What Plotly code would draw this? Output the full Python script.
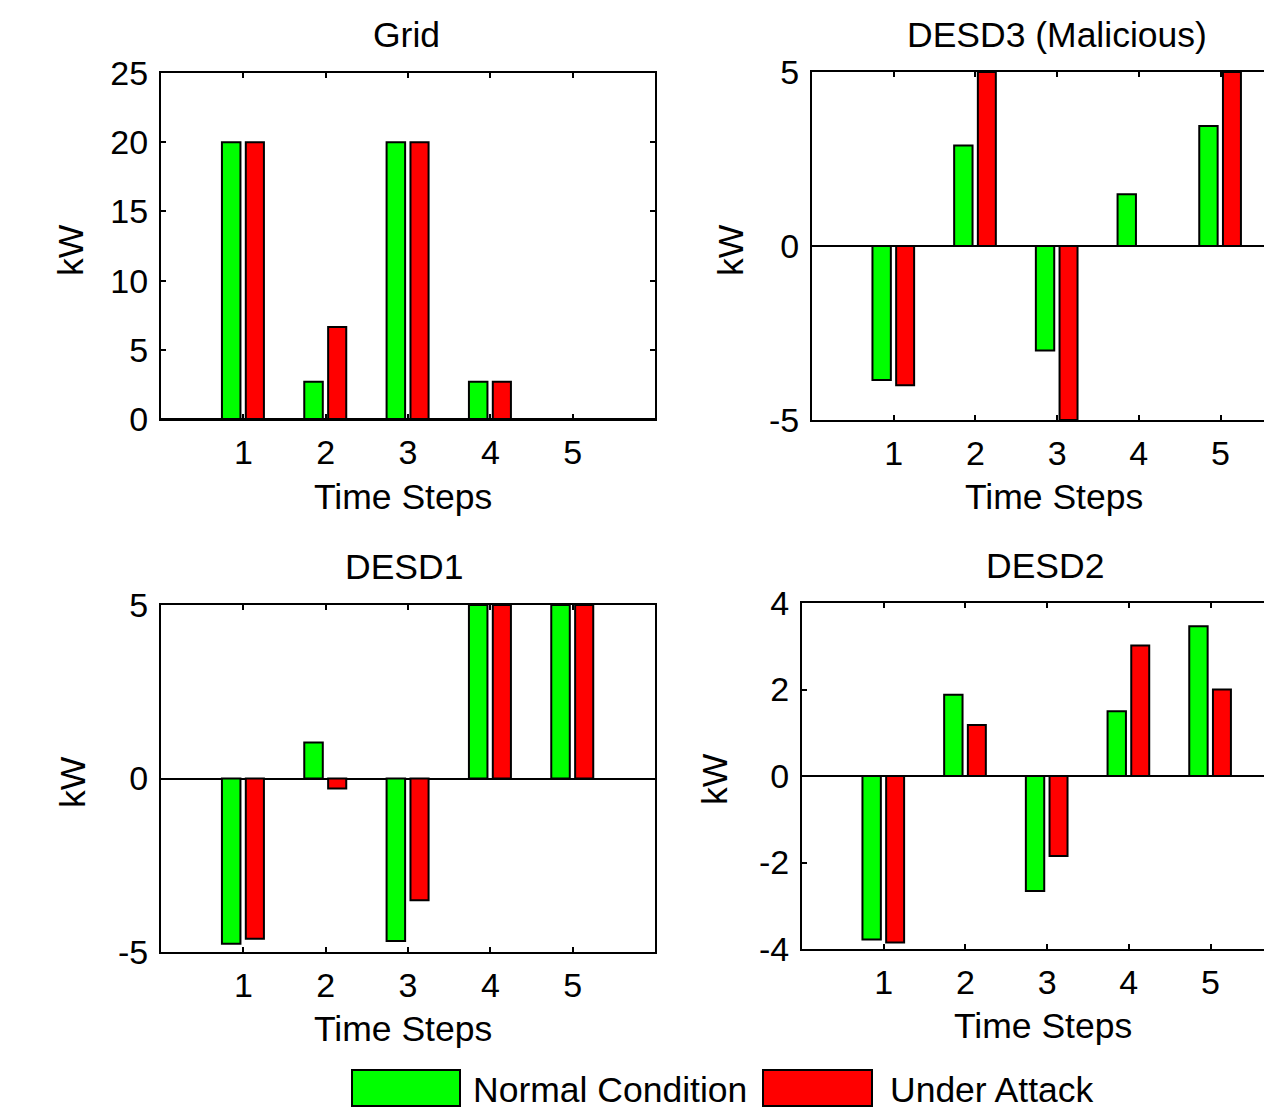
import plotly.graph_objects as go

# body margin is removed in the page (post_script), so figure pixels = screen pixels
W, H = 1264, 1113

steps = [1, 2, 3, 4, 5]
series_names = ["Normal Condition", "Under Attack"]

grid_normal = [20.0, 2.7, 20.0, 2.7, 0.0]
grid_attack = [20.0, 6.65, 20.0, 2.7, 0.0]

desd3_normal = [-3.85, 2.89, -3.0, 1.49, 3.45]
desd3_attack = [-4.0, 5.0, -5.0, 0.0, 5.0]

desd1_normal = [-4.76, 1.04, -4.68, 5.0, 5.0]
desd1_attack = [-4.62, -0.29, -3.51, 5.0, 5.0]

desd2_normal = [-3.78, 1.88, -2.66, 1.50, 3.46]
desd2_attack = [-3.85, 1.18, -1.85, 3.02, 2.0]

titles = ["Grid", "DESD3 (Malicious)", "DESD1", "DESD2"]
xlabel = "Time Steps"
ylabel = "kW"

GREEN = "#00FF00"
RED = "#FF0000"
FONT = "Liberation Sans, Arial, sans-serif"
FS = 35.5
TFS = 34


def px(x):
    return x / W


def py(y):
    return 1 - y / H


panels = [
    dict(data=(grid_normal, grid_attack), x=(161, 655), y=(73, 419), xr=[0, 6],
         yr=[0, 25], yt=[0, 5, 10, 15, 20, 25], right=False),
    dict(data=(desd3_normal, desd3_attack), x=(812, 1264), y=(72, 420),
         xr=[0, (1264 - 812) / 81.7], yr=[-5, 5], yt=[-5, 0, 5], right=True),
    dict(data=(desd1_normal, desd1_attack), x=(161, 655), y=(605, 952), xr=[0, 6],
         yr=[-5, 5], yt=[-5, 0, 5], right=False),
    dict(data=(desd2_normal, desd2_attack), x=(802, 1264), y=(603, 949),
         xr=[0, (1264 - 802) / 81.7], yr=[-4, 4], yt=[-4, -2, 0, 2, 4], right=True),
]

fig = go.Figure()
layout = {}
for i, p in enumerate(panels):
    n = "" if i == 0 else str(i + 1)
    xa, ya = "x" + n, "y" + n
    normal, attack = p["data"]
    fig.add_trace(go.Bar(x=steps, y=normal, name=series_names[0], xaxis=xa, yaxis=ya,
                         width=0.225, offset=-0.26,
                         marker=dict(color=GREEN, line=dict(color="black", width=2)),
                         showlegend=False))
    fig.add_trace(go.Bar(x=steps, y=attack, name=series_names[1], xaxis=xa, yaxis=ya,
                         width=0.22, offset=0.03,
                         marker=dict(color=RED, line=dict(color="black", width=2)),
                         showlegend=False))
    layout["xaxis" + n] = dict(
        domain=[px(p["x"][0]), min(1.0, px(p["x"][1]))], range=p["xr"], anchor=ya,
        tickvals=steps, ticktext=[str(s) for s in steps],
        showline=True, linecolor="black", linewidth=2, mirror="ticks",
        ticks="inside", ticklen=5, tickwidth=2, tickcolor="black",
        showgrid=False, zeroline=False, ticklabelstandoff=2,
        tickfont=dict(family=FONT, size=TFS, color="black"), fixedrange=True)
    layout["yaxis" + n] = dict(
        domain=[py(p["y"][1]), py(p["y"][0])], range=p["yr"], anchor=xa,
        tickvals=p["yt"], ticktext=[str(v) for v in p["yt"]],
        showline=True, linecolor="black", linewidth=2,
        mirror=False if p["right"] else "ticks",
        ticks="inside", ticklen=5, tickwidth=2, tickcolor="black",
        showgrid=False, zeroline=True, zerolinecolor="black", zerolinewidth=1.5,
        ticklabelstandoff=4,
        tickfont=dict(family=FONT, size=TFS, color="black"), fixedrange=True)

annotations = []


def txt(text, x, y, angle=0, xanchor="center"):
    annotations.append(dict(text=text, x=px(x), y=py(y), xref="paper", yref="paper",
                            showarrow=False, xanchor=xanchor, yanchor="middle",
                            textangle=angle,
                            font=dict(family=FONT, size=FS, color="black")))


# titles
txt(titles[0], 406, 35)
txt(titles[1], 1057, 35)
txt(titles[2], 404, 567)
txt(titles[3], 1045, 566)
# x labels
txt(xlabel, 403, 497)
txt(xlabel, 1054, 497)
txt(xlabel, 403, 1029)
txt(xlabel, 1043, 1026)
# y labels
txt(ylabel, 71, 250, angle=-90)
txt(ylabel, 731, 250, angle=-90)
txt(ylabel, 73, 782, angle=-90)
txt(ylabel, 715, 779, angle=-90)

# legend (manual, MATLAB style)
shapes = [
    dict(type="rect", xref="paper", yref="paper", x0=px(352), x1=px(460), y0=py(1106), y1=py(1070),
         fillcolor=GREEN, line=dict(color="black", width=2)),
    dict(type="rect", xref="paper", yref="paper", x0=px(763), x1=px(872), y0=py(1106), y1=py(1070),
         fillcolor=RED, line=dict(color="black", width=2)),
]
txt(series_names[0], 471, 1090, xanchor="left")
txt(series_names[1], 888, 1090, xanchor="left")

fig.update_layout(
    width=W, height=H, margin=dict(l=0, r=0, t=0, b=0, autoexpand=False),
    paper_bgcolor="white", plot_bgcolor="white", barmode="overlay",
    annotations=annotations, shapes=shapes, showlegend=False,
    font=dict(family=FONT, size=FS, color="black"),
    **layout)

fig.write_html("out.html", config=dict(displayModeBar=False),
               post_script="document.documentElement.style.overflow='hidden';"
                           "document.body.style.overflow='hidden';"
                           "document.body.style.margin='0';"
                           "document.body.style.padding='0';")
